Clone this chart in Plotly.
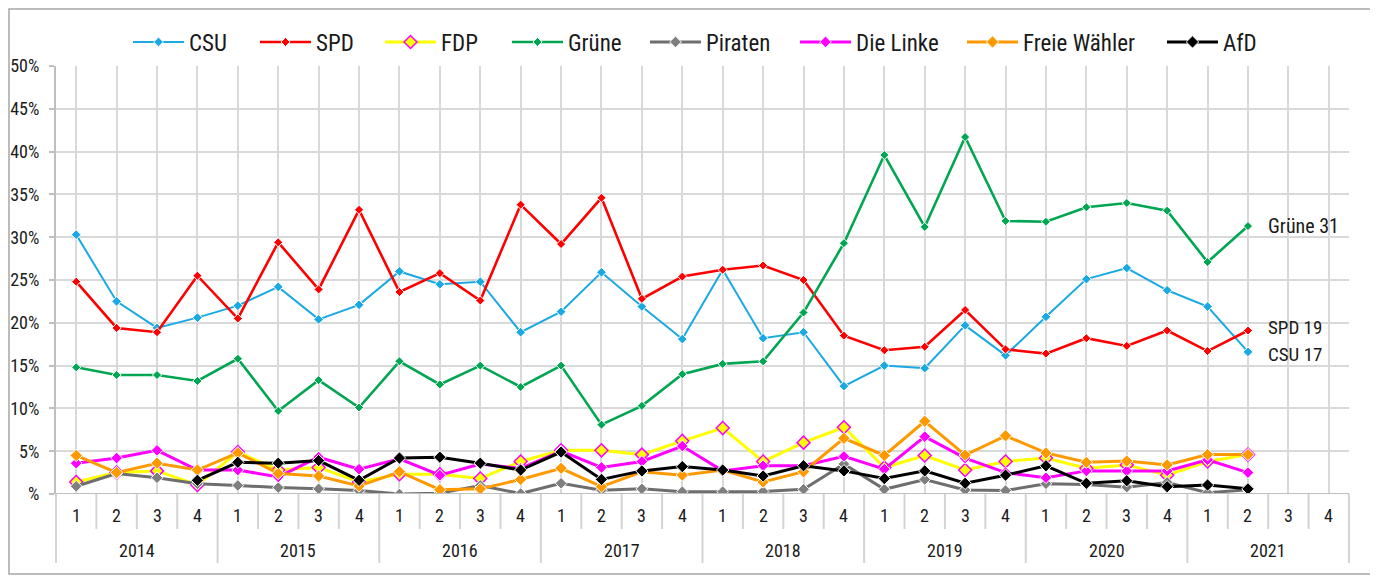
import plotly.graph_objects as go

# ---------------- data ----------------
years = ["2014", "2015", "2016", "2017", "2018", "2019", "2020", "2021"]
quarters = ["1", "2", "3", "4"]

csu = [30.3, 22.5, 19.4, 20.6, 22.0, 24.2, 20.4, 22.1, 26.0, 24.5, 24.8, 18.9,
       21.3, 25.9, 21.9, 18.1, 26.2, 18.2, 18.9, 12.6, 15.0, 14.7, 19.7, 16.2,
       20.7, 25.1, 26.4, 23.8, 21.9, 16.6]
spd = [24.8, 19.4, 18.9, 25.5, 20.5, 29.4, 23.9, 33.2, 23.6, 25.8, 22.6, 33.8,
       29.2, 34.6, 22.8, 25.4, 26.2, 26.7, 25.0, 18.5, 16.8, 17.2, 21.5, 16.9,
       16.4, 18.2, 17.3, 19.1, 16.7, 19.1]
fdp = [1.4, 2.5, 2.7, 1.05, 4.9, 2.8, 3.1, 1.4, 2.3, 2.3, 1.8, 3.8,
       5.1, 5.1, 4.6, 6.2, 7.7, 3.8, 6.0, 7.8, 3.1, 4.5, 2.8, 3.8,
       4.2, 3.0, 3.4, 2.2, 3.8, 4.6]
gruene = [14.8, 13.9, 13.9, 13.2, 15.8, 9.7, 13.3, 10.1, 15.5, 12.8, 15.0, 12.5,
          15.0, 8.1, 10.3, 14.0, 15.2, 15.5, 21.2, 29.3, 39.6, 31.2, 41.7, 31.9,
          31.8, 33.5, 34.0, 33.1, 27.1, 31.3]
piraten = [0.9, 2.4, 1.9, 1.2, 1.0, 0.75, 0.6, 0.4, 0.0, 0.1, 1.0, 0.05,
           1.25, 0.45, 0.6, 0.27, 0.27, 0.3, 0.55, 3.5, 0.55, 1.7, 0.47, 0.4,
           1.2, 1.1, 0.8, 1.35, 0.15, 0.5]
linke = [3.6, 4.2, 5.1, 2.8, 2.8, 2.0, 4.3, 2.9, 4.1, 2.2, 3.5, 3.0,
         5.0, 3.1, 3.8, 5.6, 2.7, 3.3, 3.3, 4.4, 2.9, 6.7, 4.2, 2.5,
         1.9, 2.7, 2.7, 2.7, 4.0, 2.5]
fw = [4.5, 2.5, 3.6, 2.8, 4.8, 2.4, 2.1, 0.93, 2.6, 0.5, 0.6, 1.7,
      3.0, 0.85, 2.6, 2.2, 2.8, 1.4, 2.6, 6.5, 4.5, 8.5, 4.55, 6.8,
      4.8, 3.7, 3.85, 3.4, 4.6, 4.6]
afd = [None, None, None, 1.6, 3.7, 3.6, 3.9, 1.6, 4.2, 4.3, 3.6, 2.8,
       4.9, 1.7, 2.7, 3.2, 2.8, 2.1, 3.3, 2.7, 1.8, 2.7, 1.25, 2.2,
       3.3, 1.25, 1.55, 0.85, 1.05, 0.6]

names = ["CSU", "SPD", "FDP", "Grüne", "Piraten", "Die Linke", "Freie Wähler", "AfD"]
values = [csu, spd, fdp, gruene, piraten, linke, fw, afd]
labelled = ["Grüne", "SPD", "CSU"]

y_ticks = [0, 5, 10, 15, 20, 25, 30, 35, 40, 45, 50]
y_ticktext = ["%", "5%", "10%", "15%", "20%", "25%", "30%", "35%", "40%", "45%", "50%"]

# ---------------- styles ----------------
FONT = "Roboto Condensed, Liberation Sans Narrow, Arial Narrow, Liberation Sans, sans-serif"
TXT = "#1a1a1a"
line_colors = ["#1AA9E3", "#FF0000", "#FFFF00", "#00A651", "#6E6E6E", "#FF00FF", "#FF9900", "#000000"]
marker_colors = ["#1AA9E3", "#FF0000", "#FFFF00", "#00A651", "#7F7F7F", "#FF00FF", "#FF9900", "#000000"]
marker_line_colors = ["white", "white", "#FF00FF", "white", "white", "white", "white", "white"]
marker_line_widths = [1, 1, 1.5, 1, 1, 1, 1, 1]
marker_sizes = [7.5, 7, 10, 7, 9, 9, 9.5, 9.5]
line_widths = [2, 2.6, 3, 2.6, 3, 3, 3, 3]
legend_widths = [61, 59, 61, 72, 84, 101, 134, 40]
label_fonts = [20, 19, 19]
label_shifts = [0, 3, -3]

# the page body adds an 8px offset, so the figure is drawn 8px smaller
OFF = 8
W, H = 1378 - OFF, 577 - OFF
L, R, T, B = 56 - OFF, 29, 66 - OFF, 83
PW, PH = W - L - R, H - T - B
n_slots = len(years) * len(quarters)

fig = go.Figure()
for k, name in enumerate(names):
    vals = values[k]
    fig.add_trace(go.Scatter(
        x=list(range(len(vals))), y=vals, name=name, mode="lines+markers",
        line=dict(color=line_colors[k], width=line_widths[k]),
        marker=dict(symbol="diamond", size=marker_sizes[k], color=marker_colors[k],
                    line=dict(color=marker_line_colors[k], width=marker_line_widths[k])),
        legendwidth=legend_widths[k],
        hoverinfo="skip",
    ))

annotations = []
# quarter labels and year labels
for yi, yr in enumerate(years):
    for qi, q in enumerate(quarters):
        idx = yi * len(quarters) + qi
        annotations.append(dict(x=idx, y=0, xref="x", yref="paper", text=q, showarrow=False,
                                yanchor="middle", yshift=-21,
                                font=dict(family=FONT, size=18, color=TXT)))
    annotations.append(dict(x=yi * len(quarters) + (len(quarters) - 1) / 2, y=0, xref="x", yref="paper",
                            text=yr, showarrow=False, yanchor="middle", yshift=-56,
                            font=dict(family=FONT, size=18, color=TXT)))
# end labels
for j, name in enumerate(labelled):
    vals = values[names.index(name)]
    last = len(vals) - 1
    annotations.append(dict(x=last, y=vals[last], xref="x", yref="y", text=f"{name} {vals[last]:.0f}",
                            showarrow=False, xanchor="left", yanchor="middle", xshift=19,
                            yshift=label_shifts[j], borderpad=0,
                            font=dict(family=FONT, size=label_fonts[j], color=TXT)))

shapes = []
# category separators below the axis
for b in range(n_slots + 1):
    xp = b / n_slots
    long = b % len(quarters) == 0
    depth = (69 if long else 35) / PH
    shapes.append(dict(type="line", xref="paper", yref="paper", x0=xp, x1=xp, y0=0, y1=-depth,
                       line=dict(color="#D4D4D4", width=2)))
# outer frame
shapes.append(dict(type="rect", xref="paper", yref="paper",
                   x0=(1 - L) / PW, x1=(1365 - L) / PW, y0=(T + PH - 566) / PH, y1=(T + PH - 1) / PH,
                   line=dict(color="#A6A6A6", width=1.5), fillcolor="rgba(0,0,0,0)", layer="below"))

fig.update_layout(
    width=W, height=H,
    margin=dict(l=L, r=R, t=T, b=B, pad=0, autoexpand=False),
    paper_bgcolor="white", plot_bgcolor="white",
    font=dict(family=FONT, size=17, color=TXT),
    showlegend=True,
    legend=dict(orientation="h", xref="container", yref="container",
                x=(128 - OFF) / W, xanchor="left", y=1 - (42 - OFF) / H, yanchor="middle",
                itemwidth=51, font=dict(family=FONT, size=23, color=TXT),
                bgcolor="rgba(0,0,0,0)", itemclick=False),
    xaxis=dict(range=[-0.5, n_slots - 0.5], tickvals=list(range(n_slots)), showticklabels=False,
               showgrid=True, gridcolor="#D9D9D9", gridwidth=1.6, zeroline=False,
               showline=False, ticks=""),
    yaxis=dict(range=[0, 50], tickvals=y_ticks, ticktext=y_ticktext, showgrid=True,
               gridcolor="#D9D9D9", gridwidth=1.6, zeroline=False,
               showline=True, linecolor="#BFBFBF", linewidth=2,
               ticks="outside", ticklen=5, tickcolor="#BFBFBF", tickwidth=1.5,
               ticklabelstandoff=6, tickfont=dict(family=FONT, size=18, color=TXT)),
    annotations=annotations,
    shapes=shapes,
)
# x axis base line at 0%
fig.add_shape(type="line", xref="paper", yref="y", x0=0, x1=1, y0=0, y1=0,
              line=dict(color="#BFBFBF", width=2))

fig.write_html("out.html")
